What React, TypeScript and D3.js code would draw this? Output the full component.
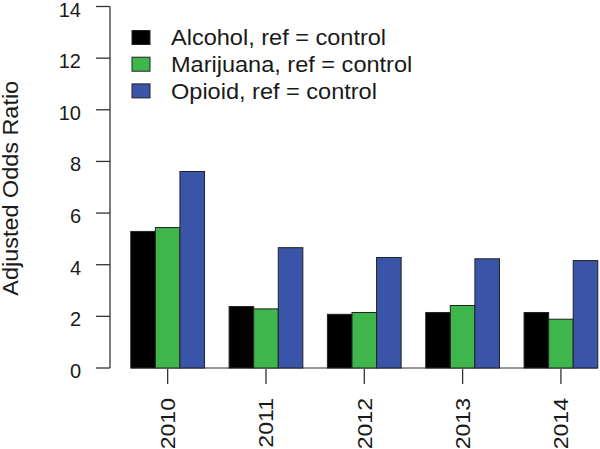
import React from 'react';
import * as d3 from 'd3';

const years = ['2010', '2011', '2012', '2013', '2014'];
const alcohol = [5.29, 2.38, 2.08, 2.15, 2.15];
const marijuana = [5.44, 2.29, 2.15, 2.42, 1.89];
const opioid = [7.61, 4.66, 4.28, 4.23, 4.16];
const seriesNames = ['Alcohol, ref = control', 'Marijuana, ref = control', 'Opioid, ref = control'];
const seriesColors = ['#000000', '#3fb64b', '#3a55a8'];
const yTicks = [0, 2, 4, 6, 8, 10, 12, 14];
const yLabel = 'Adjusted Odds Ratio';

const FONT = '"Liberation Sans", Arial, Helvetica, sans-serif';

export default function App() {
  const W = 600, H = 449;
  const series = [alcohol, marijuana, opioid];
  // x in bar units: each group = 3 bars + 1 gap (R barplot beside=TRUE)
  const x = d3.scaleLinear().domain([0, 20]).range([106.2, 597.8]);
  const y = d3.scaleLinear().domain([0, 14]).range([368, 6.5]);
  const unit = x(1) - x(0);
  const axisColor = '#333';
  const textColor = '#1a1a1a';

  return (
    <svg width={W} height={H} style={{ position: 'absolute', left: 0, top: 0, background: '#fff' }}
      fontFamily={FONT}>
      {/* y axis */}
      <line x1={110} x2={110} y1={y(14)} y2={y(0)} stroke={axisColor} strokeWidth={1.3} />
      {yTicks.map(t => (
        <g key={t}>
          <line x1={96} x2={110} y1={y(t)} y2={y(t)} stroke={axisColor} strokeWidth={1.3} />
          <text x={81} y={y(t) + 3} dy="0.35em" textAnchor="end" fontSize={20} fill={textColor}>{t}</text>
        </g>
      ))}
      <text transform={`translate(18,${(y(14) + y(0)) / 2 + 1}) rotate(-90) scale(1.09,1)`} textAnchor="middle"
        fontSize={21.5} fill={textColor}>{yLabel}</text>

      {/* baseline */}
      <line x1={x(1)} x2={x(20)} y1={y(0)} y2={y(0)} stroke={axisColor} strokeWidth={1} />

      {/* bars */}
      {years.map((yr, g) => (
        <g key={yr}>
          {series.map((s, j) => (
            <rect key={j} x={x(1 + 4 * g + j)} y={y(s[g])} width={unit} height={y(0) - y(s[g])}
              fill={seriesColors[j]} stroke="#222" strokeWidth={1} />
          ))}
        </g>
      ))}

      {/* x ticks and labels */}
      {years.map((yr, g) => {
        const cx = x(2.5 + 4 * g);
        return (
          <g key={yr}>
            <line x1={cx} x2={cx} y1={369} y2={384} stroke={axisColor} strokeWidth={1.3} />
            <text transform={`translate(${cx},398) rotate(-90) scale(1.1,1)`} textAnchor="end" dy="0.35em"
              fontSize={21} fill={textColor}>{yr}</text>
          </g>
        );
      })}

      {/* legend */}
      {seriesNames.map((name, i) => {
        const cy = 37.5 + i * 26.7;
        return (
          <g key={name}>
            <rect x={132} y={cy - 7} width={18} height={14} fill={seriesColors[i]} stroke="#222" strokeWidth={1} />
            <text transform={`translate(171,${cy}) scale(1.07,1)`} dy="0.36em" fontSize={22} fill={textColor}>{name}</text>
          </g>
        );
      })}
    </svg>
  );
}
